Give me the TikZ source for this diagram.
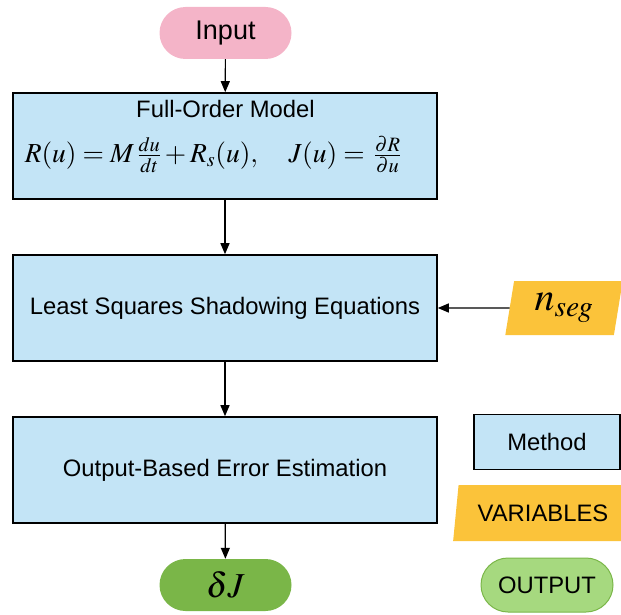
\documentclass[tikz,border=0pt]{standalone}
\usepackage{mathptmx}
\usepackage[no-math]{fontspec}
\setmainfont{Liberation Sans}
\usetikzlibrary{shapes.geometric,shapes.misc,arrows.meta}
\definecolor{boxblue}{HTML}{C3E4F6}
\definecolor{pinkc}{HTML}{F4B4C8}
\definecolor{greenc}{HTML}{7AB648}
\definecolor{lightgreenc}{HTML}{A6D97F}
\definecolor{orangec}{HTML}{FBC33A}
\tikzset{
  txt/.style={font=\fontsize{23.8}{28}\selectfont},
  method/.style={draw=black, line width=1.6pt, fill=boxblue, txt, inner sep=0pt},
  pill/.style={rounded rectangle, inner sep=0pt},
  para/.style={trapezium, trapezium stretches=true, inner sep=0pt, fill=orangec},
  arr/.style={line width=1.2pt, -{Triangle[length=11pt,width=9pt]}},
}
\begin{document}
\begin{tikzpicture}[x=1pt,y=-1pt]
\useasboundingbox (0,0) rectangle (621,615);
\clip (0,0) rectangle (621,615);
% main flow
\node[pill, fill=pinkc, minimum width=132, minimum height=52, font=\fontsize{27}{30}\selectfont] (in) at (225.5,33) {Input};
\node[method, minimum width=424, minimum height=106] (fom) at (225,146) {};
\node[txt] (fomtitle) at (225.5,109) {Full-Order Model};
\node[font=\fontsize{27.5}{32}\selectfont] (fomeq) at (213,155) {$R(u) = M\,\frac{du}{dt} + R_s(u),\quad J(u) = \,\frac{\partial R}{\partial u}$};
\node[method, minimum width=424, minimum height=106] (lss) at (225,308) {Least Squares Shadowing Equations};
\node[method, minimum width=424, minimum height=106] (oee) at (225,470) {Output-Based Error Estimation};
\node[pill, fill=greenc, minimum width=132, minimum height=52, font=\fontsize{35}{38}\selectfont] (out) at (225.5,585) {$\delta J$};
\node[para, trapezium left angle=80, trapezium right angle=100, minimum width=118, minimum height=54, font=\fontsize{40}{44}\selectfont] (nseg) at (564,308) {$n_{seg}$};
% connectors
\draw[arr] (in) -- (fom);
\draw[arr] (fom) -- (lss);
\draw[arr] (lss) -- (oee);
\draw[arr] (oee) -- (out);
\draw[arr] (nseg) -- (lss);
% legend
\node[method, line width=1.4pt, minimum width=146, minimum height=55] (legm) at (547,442) {Method};
\node[para, txt, trapezium left angle=76, trapezium right angle=104, minimum width=180, minimum height=56] (legv) at (543,513) {VARIABLES};
\node[pill, txt, fill=lightgreenc, draw=greenc, line width=1pt, minimum width=132, minimum height=54] (lego) at (547,585) {OUTPUT};
\end{tikzpicture}
\end{document}
